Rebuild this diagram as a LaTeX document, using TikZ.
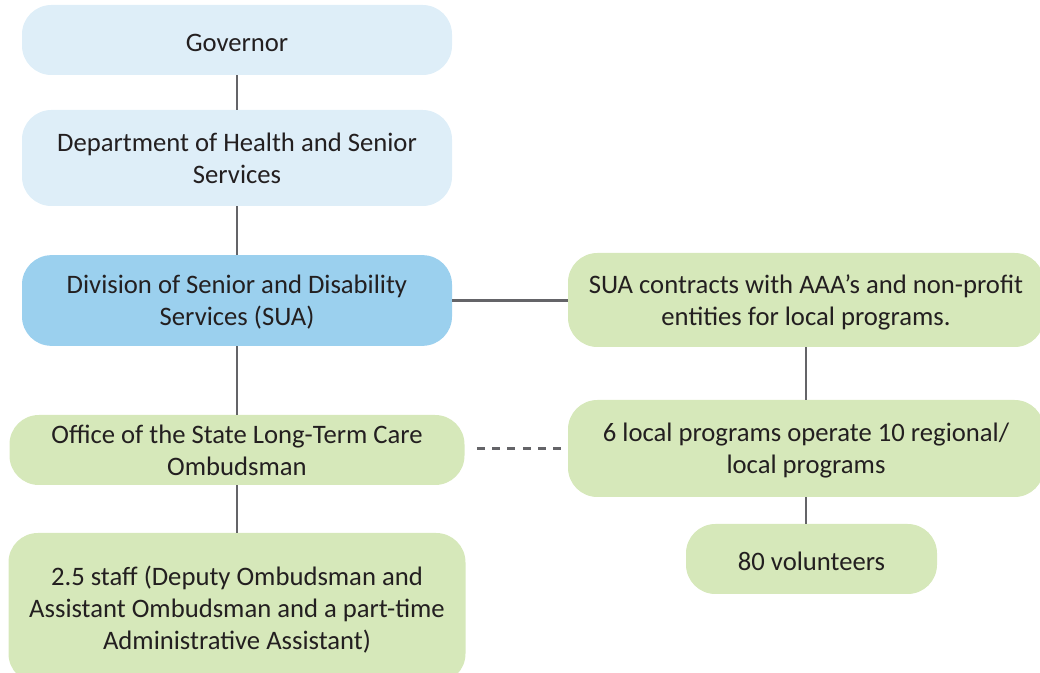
\documentclass[tikz,border=0pt]{standalone}
\usepackage{fontspec}
\setmainfont{Carlito}
\usepackage{tikz}
\definecolor{govblue}{RGB}{222,238,248}
\definecolor{suablue}{RGB}{155,208,238}
\definecolor{localgreen}{RGB}{214,232,186}
\definecolor{linkgrey}{RGB}{100,100,104}
\definecolor{inkgrey}{RGB}{35,31,32}
\def\orglink{\draw[linkgrey, line width=1.7pt]}

\begin{document}
\begin{tikzpicture}[x=0.75pt,y=-0.75pt,
  orgbox/.style={rounded corners=22pt, align=center, text=inkgrey,
    font=\fontsize{20}{24}\selectfont, inner sep=0pt, text depth=0pt},
  oneline/.style={text height=17pt},
  upperbox/.style={orgbox, fill=govblue},
  suabox/.style={orgbox, fill=suablue},
  greenbox/.style={orgbox, fill=localgreen}]
\clip (0,0) rectangle (1040,673);
\node (Gov) at (237,40) [upperbox, oneline, minimum width=322.5pt, minimum height=52.5pt] {Governor};
\node (DHSS) at (237,158) [upperbox, minimum width=322.5pt, minimum height=72pt] {Department of Health and Senior\\Services};
\node (SUA) at (237,300.5) [suabox, minimum width=322.5pt, minimum height=68pt] {Division of Senior and Disability\\Services (SUA)};
\node (Contracts) at (806,300) [greenbox, minimum width=357pt, minimum height=70.5pt] {SUA contracts with AAA’s and non-profit\\entities for local programs.};
\node (Office) at (237,450) [greenbox, minimum width=341.25pt, minimum height=52.5pt] {Office of the State Long-Term Care\\Ombudsman};
\node (Local) at (806,448.5) [greenbox, minimum width=357pt, minimum height=72.75pt] {6 local programs operate 10 regional/\\local programs};
\node (Staff) at (237,608) [greenbox, minimum width=342.75pt, minimum height=112.5pt] {2.5 staff (Deputy Ombudsman and\\Assistant Ombudsman and a part-time\\Administrative Assistant)};
\node (Vol) at (811.5,559) [greenbox, oneline, minimum width=188.25pt, minimum height=52.5pt] {80 volunteers};
\orglink (Gov) -- (DHSS);
\orglink (DHSS) -- (SUA);
\orglink (SUA) -- (Office);
\orglink (Office) -- (Staff);
\orglink (SUA.east) -- (SUA.east -| Contracts.west);
\orglink (Contracts) -- (Local);
\orglink (Local) -- (Local |- Vol.north);
\draw[linkgrey, line width=1.7pt, dash pattern=on 6pt off 5.5pt, shorten <=9pt, shorten >=3pt] (Office.east |- Local.west) -- (Local.west);
\end{tikzpicture}
\end{document}
